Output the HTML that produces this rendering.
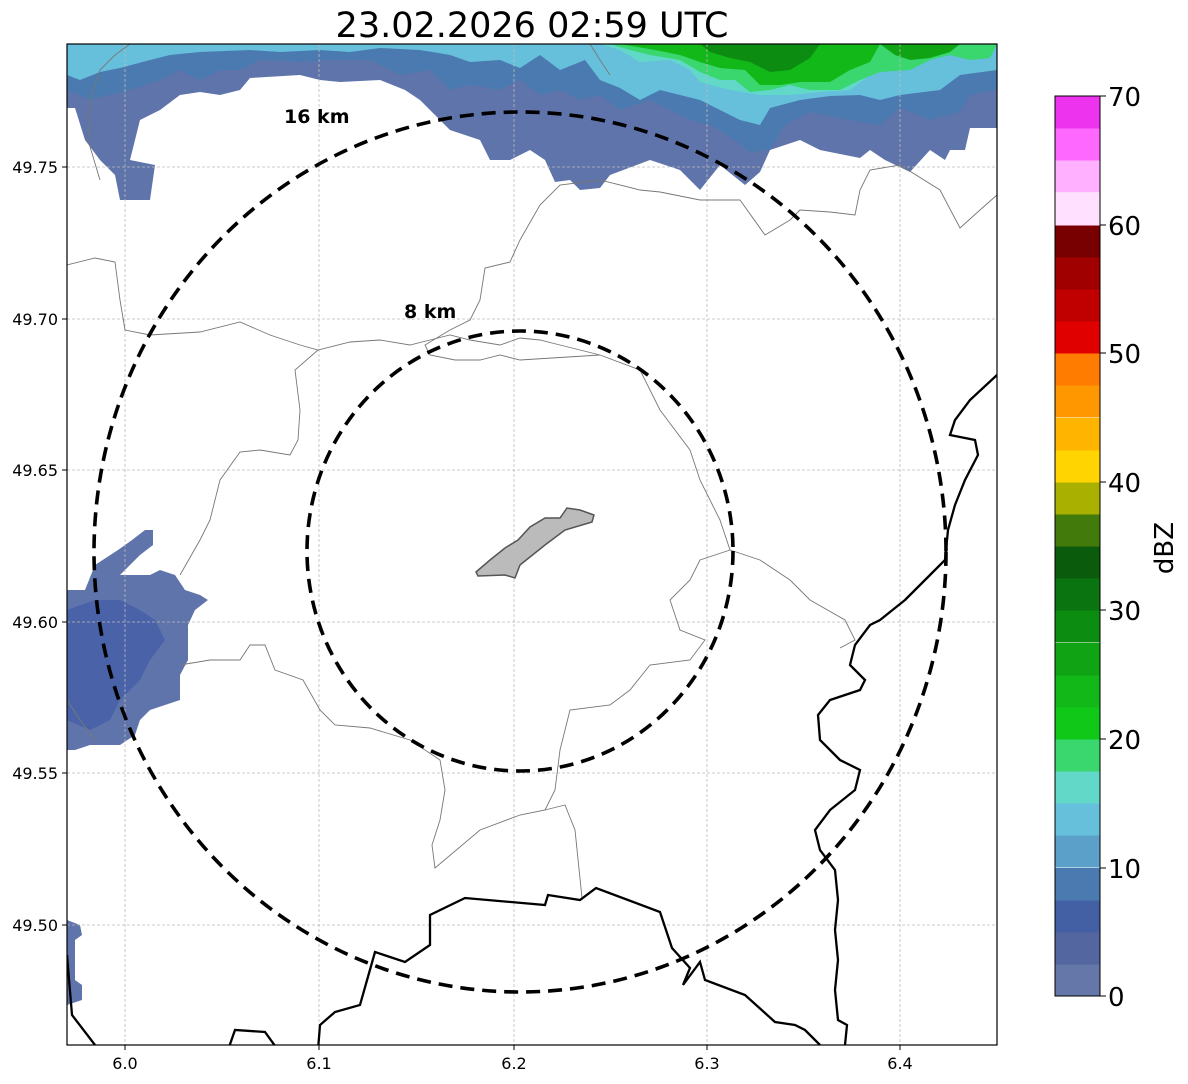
<!DOCTYPE html>
<html><head><meta charset="utf-8"><style>
body{margin:0;background:#fff;}
svg{display:block;font-family:"DejaVu Sans","Liberation Sans",sans-serif;}
</style></head><body>
<svg width="1188" height="1084" viewBox="0 0 1188 1084" xmlns="http://www.w3.org/2000/svg">
<rect width="1188" height="1084" fill="#fff"/>
<text x="532" y="37" font-size="35" text-anchor="middle">23.02.2026 02:59 UTC</text>
<defs><clipPath id="c"><rect x="67" y="44" width="930" height="1001"/></clipPath></defs>
<g clip-path="url(#c)">
<polygon fill="#5f74aa" points="67,44 997,44 997,128 970,128 965,150 950,150 945,160 930,150 910,172 885,160 870,150 860,158 820,150 800,140 770,150 760,172 745,185 720,165 700,190 680,170 650,160 610,175 600,188 580,190 570,180 555,182 545,160 530,150 510,160 490,160 480,140 450,130 430,110 420,100 405,90 380,80 340,82 320,80 300,75 250,78 240,90 220,95 200,92 180,95 160,110 140,120 130,160 155,165 150,200 120,200 115,175 100,160 85,140 75,108 67,108"/>
<polygon fill="#4a7ab0" points="67,44 997,44 997,90 970,95 960,112 930,120 900,108 880,125 850,120 810,112 785,125 770,150 750,152 735,140 710,125 690,120 670,110 650,100 620,110 600,95 580,100 560,90 540,95 520,80 500,90 470,85 450,90 430,70 400,75 370,60 330,60 300,62 260,60 240,70 220,70 200,80 180,70 160,80 130,90 110,95 90,100 67,90"/>
<polygon fill="#66c0dc" points="67,44 997,44 997,70 960,75 940,90 900,95 880,100 860,95 830,96 800,100 770,108 760,125 740,120 720,110 700,100 680,95 660,90 640,100 620,88 600,80 585,60 560,70 540,55 520,68 500,60 470,62 450,55 420,50 380,48 350,52 320,50 280,52 250,50 200,52 170,55 150,60 120,68 100,72 80,80 67,75"/>
<polygon fill="#62d8c8" points="600,44 880,44 870,75 850,90 820,92 790,95 760,95 730,90 700,82 690,70 670,60 640,62 620,50"/>
<polygon fill="#3ad66e" points="610,44 997,44 990,58 970,60 950,55 930,60 910,70 880,72 860,80 840,90 810,90 790,85 770,90 750,92 735,80 720,80 700,72 680,60 650,55 630,50"/>
<polygon fill="#12b818" points="620,44 880,44 870,62 850,70 830,82 800,82 780,85 760,85 745,70 720,68 700,62 680,55 655,50"/>
<polygon fill="#0c8c10" points="700,44 820,44 810,58 790,70 770,72 750,62 730,58 710,52"/>
<polygon fill="#10a414" points="880,44 960,44 950,52 930,58 910,60 895,55"/>
<polygon fill="#5f74aa" points="67,590 85,590 95,565 118,550 132,540 145,530 153,530 153,545 140,555 130,565 120,575 150,575 160,570 175,575 185,590 200,595 208,600 195,610 188,625 188,660 180,675 180,700 165,705 150,710 140,720 135,735 120,745 90,745 75,750 67,750"/>
<polygon fill="#4a62a8" points="67,610 95,600 120,600 140,610 155,620 165,640 150,660 140,680 120,700 110,720 90,730 67,720"/>
<polygon fill="#5f74aa" points="67,920 80,925 82,935 75,940 75,980 82,985 82,1000 67,1005"/>
<g stroke="#bbb" stroke-width="0.8" stroke-dasharray="3,2">
<line x1="125" y1="44" x2="125" y2="1045"/><line x1="319" y1="44" x2="319" y2="1045"/><line x1="514" y1="44" x2="514" y2="1045"/><line x1="707" y1="44" x2="707" y2="1045"/><line x1="900" y1="44" x2="900" y2="1045"/>
<line x1="67" y1="167" x2="997" y2="167"/><line x1="67" y1="319" x2="997" y2="319"/><line x1="67" y1="470" x2="997" y2="470"/><line x1="67" y1="622" x2="997" y2="622"/><line x1="67" y1="773" x2="997" y2="773"/><line x1="67" y1="925" x2="997" y2="925"/>
</g>
<g fill="none" stroke="#777" stroke-width="0.9">
<path d="M67,265 L95,258 115,262 120,300 125,330 150,335 200,332 240,322 270,335 300,345 318,350 350,342 380,340 410,345 430,340 450,335 470,340 500,345 520,338 540,340 560,345 580,350 600,355"/>
<path d="M318,350 L295,370 300,410 298,440 290,455 260,450 240,452 220,480 210,520 200,540 180,575"/>
<path d="M600,355 L520,360 500,355 480,360 455,360 430,355 425,345 450,330 470,320 480,300 485,268 510,262 520,240 540,205 560,185 600,180 640,190 660,192 700,200 740,200 765,235 790,220 800,210 830,212 855,215 860,190 870,170 900,165 940,190 960,228 980,210 997,195"/>
<path d="M600,355 L640,370 660,410 690,450 700,480 720,520 730,550 700,560 690,580 670,600 680,630 705,640 690,660 650,665 630,690 610,705 570,710 560,750 555,790 545,810 520,815 480,830 435,868 432,845 440,820 445,790 440,760 410,740 370,728 335,725 320,710 303,680 275,670 265,645 250,645 240,660 210,660 180,665"/>
<path d="M545,810 L565,805 575,830 582,898"/>
<path d="M730,550 L760,560 790,580 810,600 845,620 855,640 840,648"/>
<path d="M67,700 L80,720 95,740"/>
<path d="M130,44 L115,55 100,70 90,100 88,140 100,180"/>
<path d="M590,44 L600,60 610,75"/>
</g>
<g fill="none" stroke="#000" stroke-width="2.3">
<path d="M997,375 L970,400 955,420 950,435 975,440 978,455 965,480 955,505 948,530 945,560 930,575 905,600 880,620 870,625 855,645 850,665 865,680 860,690 830,700 818,715 820,740 840,760 860,770 855,790 830,810 815,830 820,850 835,870 838,900 835,930 838,960 835,990 838,1020 847,1025 845,1045"/>
<path d="M318,1050 L320,1025 335,1012 360,1005 375,952 405,962 430,945 430,915 465,898 545,905 548,895 580,900 596,888 660,912 672,948 690,968 683,985 700,962 705,980 745,995 775,1022 795,1025 805,1030 820,1045"/>
<path d="M67,955 L72,1015 95,1045"/>
<path d="M228,1050 L235,1030 265,1032 278,1050"/>
</g>
<polygon fill="#bbb" stroke="#555" stroke-width="1.5" points="476,572 490,560 505,548 518,540 530,527 545,518 560,518 567,508 580,510 594,515 592,522 565,530 545,545 520,565 515,578 505,575 478,576"/>
<g fill="none" stroke="#000" stroke-width="3.6" stroke-dasharray="14,8">
<ellipse cx="520" cy="552" rx="426" ry="440"/>
<ellipse cx="520" cy="551" rx="213" ry="220"/>
</g>
<text x="284" y="123" font-size="19" font-weight="bold">16 km</text>
<text x="404" y="318" font-size="19" font-weight="bold">8 km</text>
</g>
<rect x="67" y="44" width="930" height="1001" fill="none" stroke="#000" stroke-width="1.2"/>
<g stroke="#000" stroke-width="1"><line x1="125" y1="1045" x2="125" y2="1050"/><line x1="319" y1="1045" x2="319" y2="1050"/><line x1="514" y1="1045" x2="514" y2="1050"/><line x1="707" y1="1045" x2="707" y2="1050"/><line x1="900" y1="1045" x2="900" y2="1050"/>
<line x1="62" y1="167" x2="67" y2="167"/><line x1="62" y1="319" x2="67" y2="319"/><line x1="62" y1="470" x2="67" y2="470"/><line x1="62" y1="622" x2="67" y2="622"/><line x1="62" y1="773" x2="67" y2="773"/><line x1="62" y1="925" x2="67" y2="925"/></g>
<g font-size="16" text-anchor="middle"><text x="125" y="1069">6.0</text><text x="319" y="1069">6.1</text><text x="514" y="1069">6.2</text><text x="707" y="1069">6.3</text><text x="900" y="1069">6.4</text></g>
<g font-size="16" text-anchor="end"><text x="58" y="173">49.75</text><text x="58" y="325">49.70</text><text x="58" y="476">49.65</text><text x="58" y="628">49.60</text><text x="58" y="779">49.55</text><text x="58" y="931">49.50</text></g>
<g>
<rect x="1055" y="964" width="45" height="32.5" fill="#6577a9"/>
<rect x="1055" y="932" width="45" height="32.5" fill="#5466a0"/>
<rect x="1055" y="900" width="45" height="32.5" fill="#4460a4"/>
<rect x="1055" y="868" width="45" height="32.5" fill="#4a7ab0"/>
<rect x="1055" y="835" width="45" height="32.5" fill="#5aa0c8"/>
<rect x="1055" y="803" width="45" height="32.5" fill="#66c0dc"/>
<rect x="1055" y="771" width="45" height="32.5" fill="#62d8c8"/>
<rect x="1055" y="739" width="45" height="32.5" fill="#3ad66e"/>
<rect x="1055" y="707" width="45" height="32.5" fill="#10c818"/>
<rect x="1055" y="675" width="45" height="32.5" fill="#12b818"/>
<rect x="1055" y="643" width="45" height="32.5" fill="#10a414"/>
<rect x="1055" y="610" width="45" height="32.5" fill="#0c8c10"/>
<rect x="1055" y="578" width="45" height="32.5" fill="#0a7410"/>
<rect x="1055" y="546" width="45" height="32.5" fill="#0a5c0c"/>
<rect x="1055" y="514" width="45" height="32.5" fill="#437a0c"/>
<rect x="1055" y="482" width="45" height="32.5" fill="#aab000"/>
<rect x="1055" y="450" width="45" height="32.5" fill="#ffd400"/>
<rect x="1055" y="418" width="45" height="32.5" fill="#ffb400"/>
<rect x="1055" y="385" width="45" height="32.5" fill="#ff9800"/>
<rect x="1055" y="353" width="45" height="32.5" fill="#ff7c00"/>
<rect x="1055" y="321" width="45" height="32.5" fill="#e00000"/>
<rect x="1055" y="289" width="45" height="32.5" fill="#c00000"/>
<rect x="1055" y="257" width="45" height="32.5" fill="#a00000"/>
<rect x="1055" y="225" width="45" height="32.5" fill="#780000"/>
<rect x="1055" y="193" width="45" height="32.5" fill="#ffe0ff"/>
<rect x="1055" y="160" width="45" height="32.5" fill="#ffb0ff"/>
<rect x="1055" y="128" width="45" height="32.5" fill="#ff68ff"/>
<rect x="1055" y="96" width="45" height="32.5" fill="#ee33ee"/>
<rect x="1055" y="96" width="45" height="900" fill="none" stroke="#000" stroke-width="1"/>
</g>
<g stroke="#000" stroke-width="1"><line x1="1100" y1="996" x2="1106" y2="996"/><line x1="1100" y1="868" x2="1106" y2="868"/><line x1="1100" y1="739" x2="1106" y2="739"/><line x1="1100" y1="610" x2="1106" y2="610"/><line x1="1100" y1="482" x2="1106" y2="482"/><line x1="1100" y1="353" x2="1106" y2="353"/><line x1="1100" y1="225" x2="1106" y2="225"/><line x1="1100" y1="96" x2="1106" y2="96"/></g>
<g font-size="26"><text x="1108" y="1006">0</text><text x="1108" y="878">10</text><text x="1108" y="749">20</text><text x="1108" y="620">30</text><text x="1108" y="492">40</text><text x="1108" y="363">50</text><text x="1108" y="235">60</text><text x="1108" y="106">70</text></g>
<text transform="translate(1173,548) rotate(-90)" font-size="26" text-anchor="middle">dBZ</text>
</svg>
</body></html>
